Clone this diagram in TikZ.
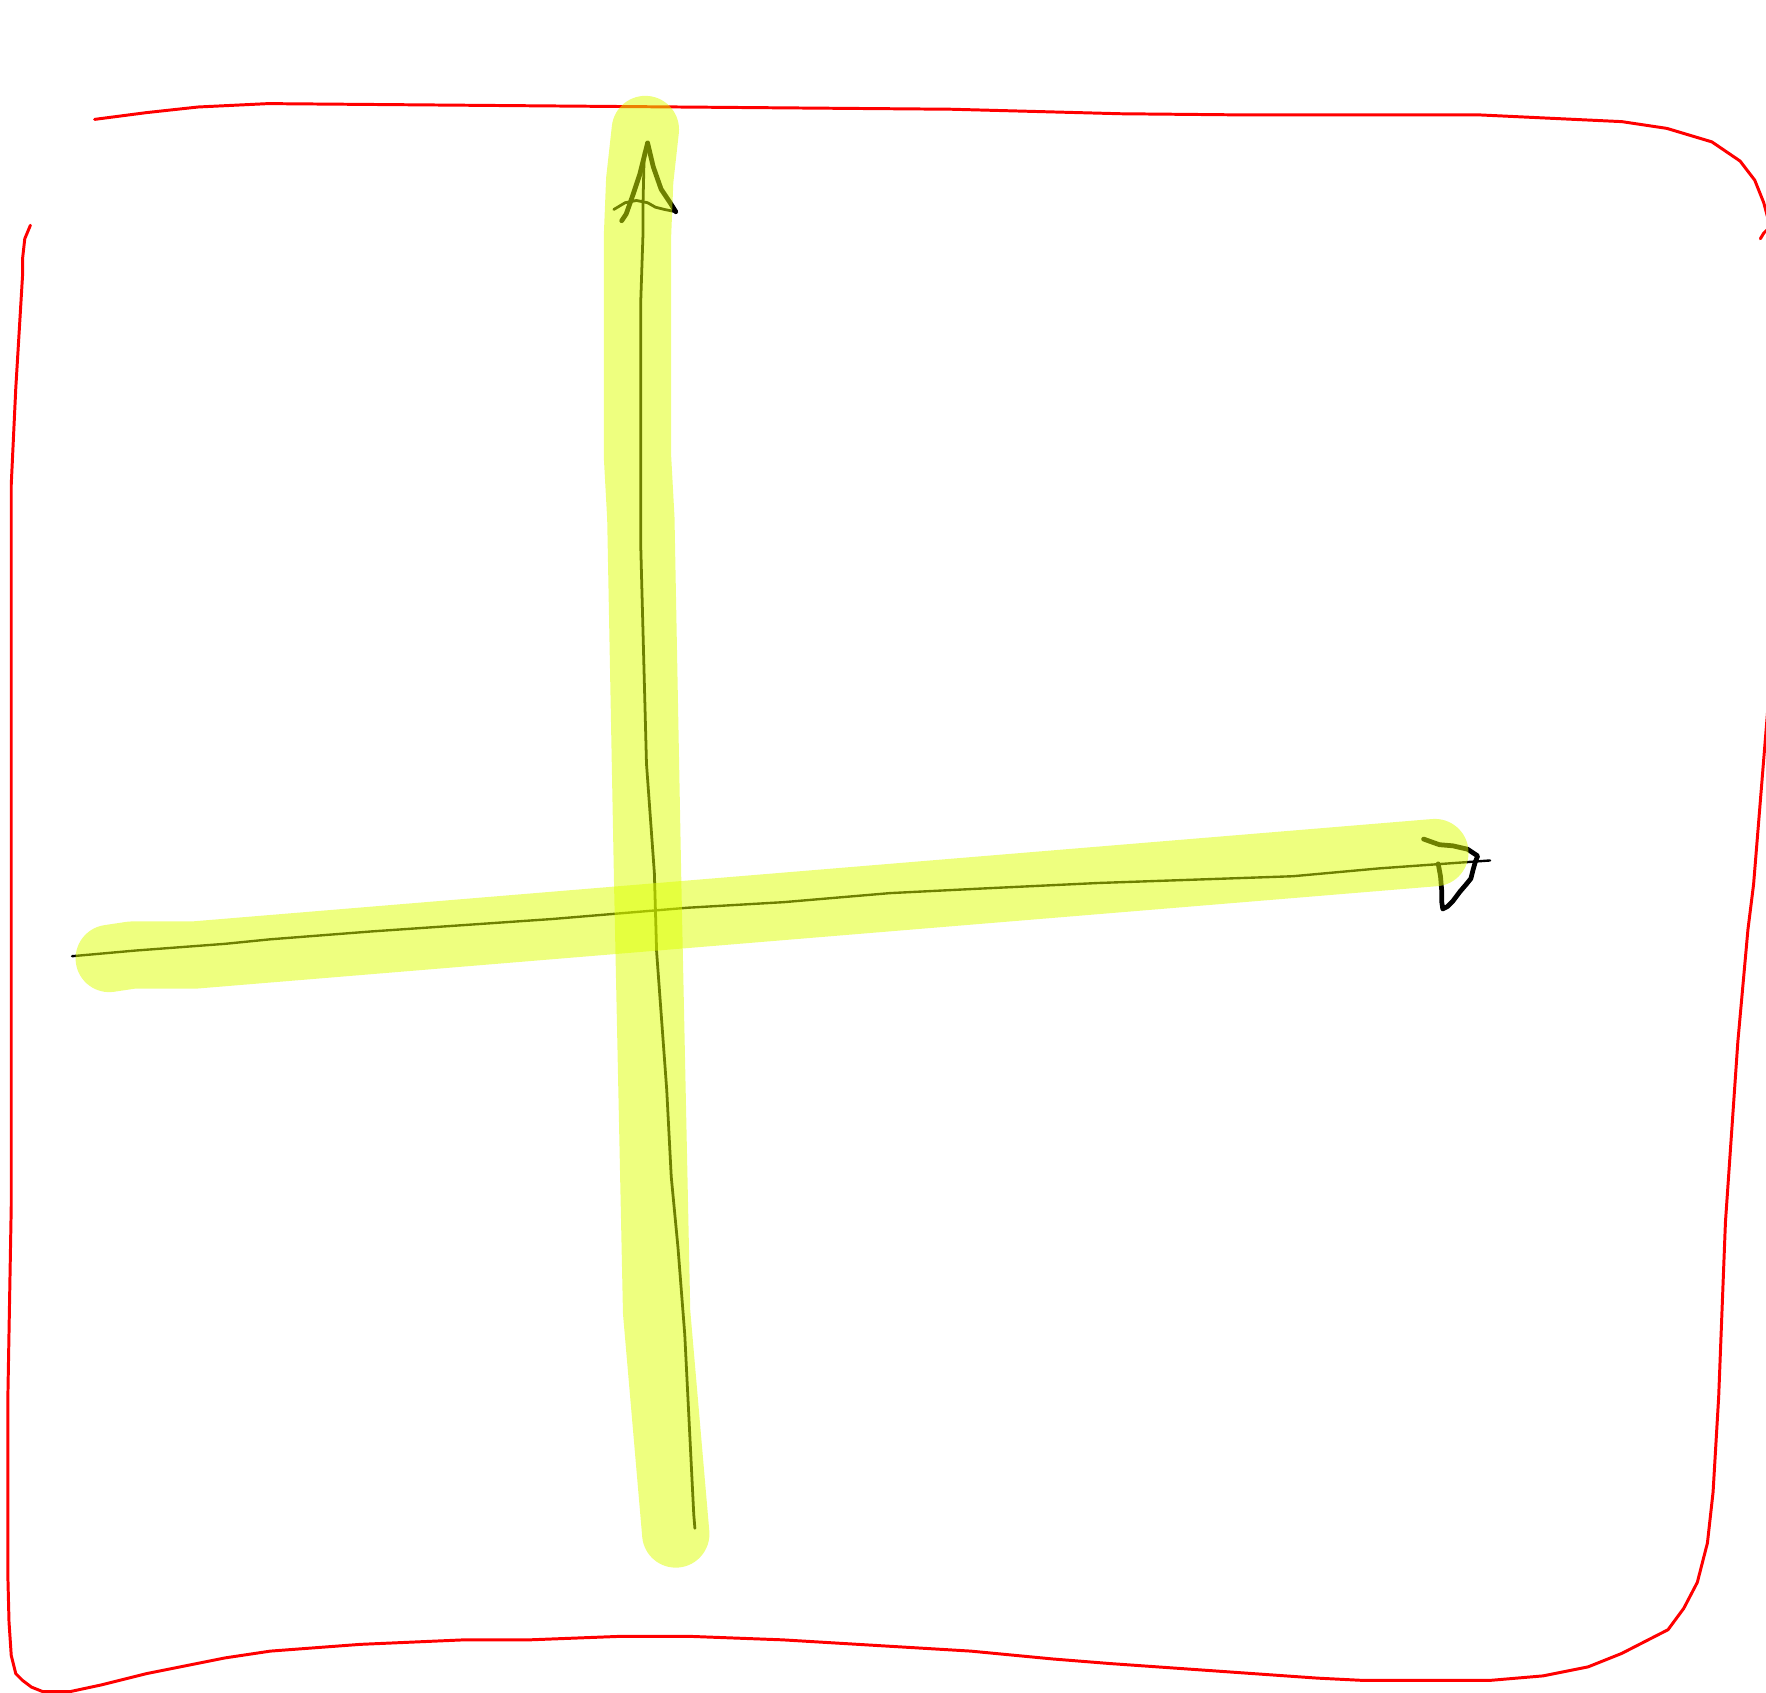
\documentclass[tikz,border=0pt]{standalone}
\usepackage{tikz}
\usetikzlibrary{calc}
\definecolor{penred}{HTML}{FF0000}
\definecolor{markeryellow}{HTML}{DDFF00}

\begin{document}
\begin{tikzpicture}[
    x=0.01cm, y=-0.01cm,
    frame/.style={draw=penred, line width=0.75pt, line join=round, line cap=round},
    axis/.style={draw=black, line width=0.7pt, line join=round, line cap=round},
    tip/.style={draw=black, line width=1.2pt, line join=round, line cap=round},
    marker/.style={draw=markeryellow, draw opacity=0.5, line width=17pt, line cap=round, line join=round}
]
\useasboundingbox (0,0) rectangle (1568,1503);

% Frame drawn by hand
\draw[frame] (84,106) -- (130,100) -- (176,95) -- (238,92) -- (845,97) -- (995,101)
  -- (1100,102) -- (1313,102) -- (1440,108) -- (1480,114) -- (1520,126) -- (1545,143)
  -- (1558,160) -- (1566,180) -- (1570,195);
\draw[frame] (1563,212) -- (1566,207) -- (1570,203);
\draw[frame] (1572,600) -- (1557,785) -- (1552,825) -- (1543,925) -- (1532,1085)
  -- (1526,1240) -- (1521,1325) -- (1516,1370) -- (1507,1405) -- (1495,1428)
  -- (1481,1447) -- (1440,1468) -- (1410,1480) -- (1370,1488) -- (1323,1492)
  -- (1210,1492) -- (1170,1490) -- (985,1477) -- (935,1473) -- (862,1466)
  -- (695,1456) -- (615,1453) -- (548,1453) -- (470,1456) -- (412,1456)
  -- (320,1460) -- (240,1466) -- (200,1472) -- (130,1486) -- (90,1496)
  -- (62,1502) -- (38,1502) -- (28,1498) -- (20,1492) -- (14,1486) -- (10,1470)
  -- (8,1440) -- (7,1400) -- (7,1240) -- (10,1070) -- (10,430) -- (14,345)
  -- (20,245) -- (20,230) -- (22,212) -- (27,200);

% Vertical axis
\coordinate (ybase) at (617,1357);
\coordinate (ytip) at (575,127);
\draw[axis] (ybase) -- (616,1345) -- (612,1265) -- (608,1185) -- (602,1108)
  -- (596,1045) -- (592,968) -- (583,845) -- (581,775) -- (574,678) -- (569,488)
  -- (569,265) -- (571,205) -- (571,178) -- (572,135);
\draw[tip] (ytip) -- (568,155) -- (562,173) -- (556,190) -- (552,196);
\draw[tip] (ytip) -- (580,148) -- (587,168) -- (595,180) -- (600,188);
\draw[axis] (545,186) -- (555,180) -- (565,178) -- (575,180) -- (582,184)
  -- (590,186) -- (600,188);

% Horizontal axis
\coordinate (xbase) at (64,849);
\coordinate (xtip) at (1323,764);
\draw[axis, line width=0.6pt] (xbase) -- (120,844) -- (200,838) -- (240,834) -- (330,827)
  -- (490,816) -- (610,806) -- (696,801) -- (790,793) -- (870,789) -- (975,784)
  -- (1148,778) -- (1225,771) -- (xtip);
\draw[tip] (1264,745) -- (1278,750) -- (1290,751) -- (1303,754) -- (1312,760)
  -- (1310,765) -- (1308,772) -- (1306,780) -- (1302,785) -- (1296,792)
  -- (1290,800) -- (1285,805) -- (1281,807) -- (1280,800) -- (1280,790)
  -- (1279,778) -- (1277,767);

% Highlighter strokes
\draw[marker] (573,115) -- (568,160) -- (566,210) -- (566,405) -- (569,460)
  -- (575,780) -- (583,1165) -- (600,1362);
\draw[marker] (97,851) -- (117,848) -- (172,848) -- (1274,757);

\end{tikzpicture}
\end{document}
